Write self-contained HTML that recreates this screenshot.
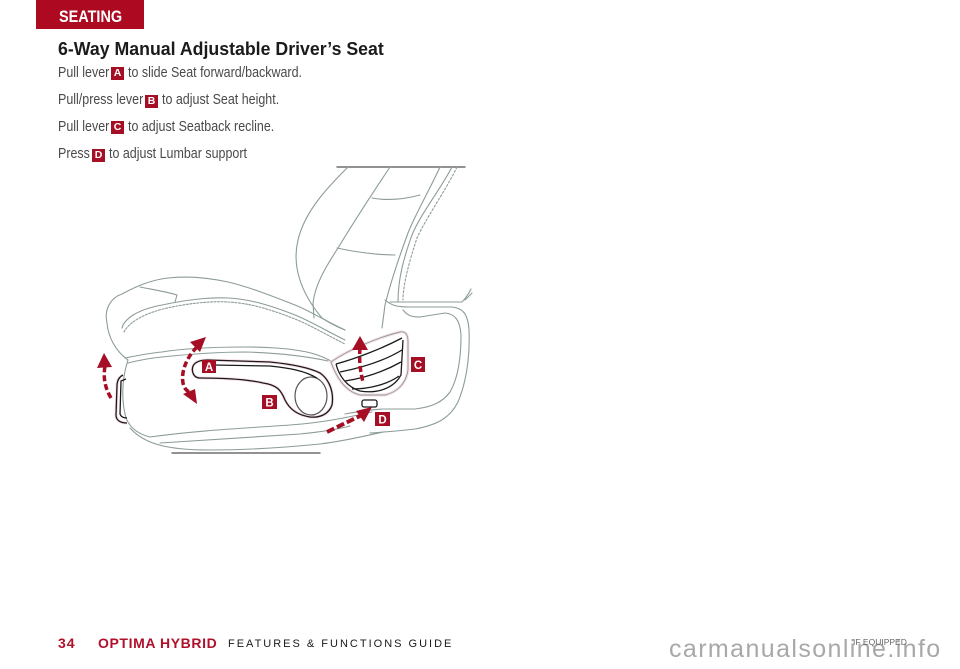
<!DOCTYPE html>
<html><head><meta charset="utf-8">
<style>
html,body{margin:0;padding:0;background:#fff;}
body{width:960px;height:669px;position:relative;overflow:hidden;font-family:"Liberation Sans",Arial,sans-serif;}
.abs{position:absolute;white-space:nowrap;line-height:1;transform-origin:0 0;}
.t{font-size:14.5px;color:#4a4a4a;transform:scaleX(0.86);}
.bd{position:absolute;width:13px;height:13px;background:#a50e24;color:#fff;font-weight:bold;font-size:10.5px;line-height:13px;text-align:center;}
</style></head><body>

<div style="position:absolute;left:36px;top:0;width:108px;height:29px;background:#ad0a22;"></div>
<div class="abs" style="left:59px;top:9px;font-size:16.5px;font-weight:bold;color:#fff;transform:scaleX(0.875);">SEATING</div>

<div class="abs" style="left:58px;top:40px;font-size:18px;font-weight:bold;color:#1b1b1b;transform:scaleX(0.985);">6-Way Manual Adjustable Driver’s Seat</div>

<div class="abs t" style="left:58px;top:66px;">Pull lever</div>
<div class="bd" style="left:111px;top:67px;">A</div>
<div class="abs t" style="left:128px;top:66px;">to slide Seat forward/backward.</div>

<div class="abs t" style="left:58px;top:93px;">Pull/press lever</div>
<div class="bd" style="left:145px;top:95px;">B</div>
<div class="abs t" style="left:162px;top:93px;">to adjust Seat height.</div>

<div class="abs t" style="left:58px;top:120px;">Pull lever</div>
<div class="bd" style="left:111px;top:121px;">C</div>
<div class="abs t" style="left:128px;top:120px;">to adjust Seatback recline.</div>

<div class="abs t" style="left:58px;top:147px;">Press</div>
<div class="bd" style="left:92px;top:149px;">D</div>
<div class="abs t" style="left:109px;top:147px;">to adjust Lumbar support</div>

<svg style="position:absolute;left:0;top:0" width="960" height="669" viewBox="0 0 960 669">
<g fill="none" stroke="#8c9c99" stroke-width="1.1" stroke-linecap="round">
  <line x1="337" y1="167" x2="465" y2="167" stroke="#6f6f6f" stroke-width="1.4"/>
  <line x1="172" y1="453" x2="320" y2="453" stroke="#6f6f6f" stroke-width="1.4"/>
  <path d="M348,167 C330,185 305,210 298,240 C292,265 300,292 322,318 C328,322 335,326 345,330"/>
  <path d="M390,167 C378,185 352,225 338,248 C325,268 315,285 313,303 L314,318"/>
  <path d="M440,167 C432,185 415,215 408,233 C398,260 390,285 385,305 L382,328"/>
  <path d="M372,198 C388,201 405,199 420,195"/>
  <path d="M337,248 C355,252 378,255 395,255"/>
  <path d="M452,167 C440,190 420,215 412,235 C403,260 398,280 398,302"/>
  <path d="M457,167 C446,190 426,218 417,238 C409,262 403,285 403,300" stroke-dasharray="2,2"/>
  <path d="M390,302 L462,302 C466,298 469,293 471,289"/>
  <path d="M465,300 L472,293"/>
  <path d="M385,300 C392,306 398,307 410,307 L452,307 C462,308 468,313 469,330 C470,355 467,380 458,402 C450,418 437,425 415,429 C398,431 385,432 370,433"/>
  <path d="M403,310 C408,316 412,317 420,317 L445,313 C455,314 460,320 461,335 C461,360 457,380 450,392 C443,402 432,407 415,409 L383,409 C370,410 355,412 345,414"/>
  <path d="M107,323 C104,310 110,298 122,294 C135,287 150,280 168,278 C185,276 205,277 228,282 C245,286 262,292 295,305 C310,311 320,318 345,330"/>
  <path d="M140,287 C155,290 168,292 177,295 L175,302"/>
  <path d="M122,328 C124,320 135,310 162,305 C185,300 210,297 228,298 C245,299 262,302 295,315 C310,321 325,330 345,340"/>
  <path d="M124,332 C128,324 140,315 163,309 C188,303 212,301 228,302 C245,303 262,306 295,319 C310,325 325,334 345,344" stroke-dasharray="2,1.5"/>
  <path d="M107,323 C108,335 114,350 128,360"/>
  <path d="M125,358 C140,355 150,353 162,352 C180,349 210,347 245,347 C270,347 290,349 295,350 C310,352 320,355 333,362"/>
  <path d="M128,363 C140,360 150,358 162,357 C200,353 225,352 245,352 C280,353 305,356 328,361"/>
  <path d="M128,360 C122,378 121,400 126,418 C130,428 138,434 150,437"/>
  <path d="M130,428 C145,445 170,450 210,450 C250,450 290,447 320,444 C345,441 365,436 383,432"/>
  <path d="M150,437 C200,430 250,428 290,425 C320,423 345,418 372,412"/>
  <path d="M160,443 C210,440 260,437 300,434 C320,432 335,430 350,426"/>
  <ellipse cx="311" cy="396" rx="16" ry="19" stroke="#555" stroke-width="1.2"/>
</g>

<g fill="none" stroke="#f7dde3" stroke-width="3" stroke-linejoin="round">
  <path d="M193,366 C195,362 200,360 208,360 L270,362 C290,364 308,367 320,373 C330,380 334,393 332,405 C329,414 320,418 310,417 C298,415 290,410 285,400 C281,390 277,385 263,383 C250,380 230,378 200,378 C194,378 191,372 193,366 Z" transform="translate(0,0)"/>
  <path d="M123,375 C119,377 117,381 117,386 L116,415 C116,420 120,423 127,423"/>
  <path d="M331,362 C345,352 375,338 400,332 C406,331 408,335 408,342 L408,370 C406,383 398,392 385,395 L360,395 C348,392 338,382 331,362 Z"/>
</g>
<g fill="none" stroke="#8c9c99" stroke-width="0.9">
  <path d="M331,362 C345,352 375,338 400,332 C406,331 408,335 408,342 L408,370 C406,383 398,392 385,395 L360,395 C348,392 338,382 331,362 Z"/>
</g>

<g fill="none" stroke="#1a1a1a" stroke-width="1.3" stroke-linejoin="round">
  <path d="M193,366 C195,362 200,360 208,360 L270,362 C290,364 308,367 320,373 C330,380 334,393 332,405 C329,414 320,418 310,417 C298,415 290,410 285,400 C281,390 277,385 263,383 C250,380 230,378 200,378 C194,378 191,372 193,366 Z"/>
  <path d="M213,365 L270,366 C290,368 305,371 317,378"/>
  <path d="M123,375 C119,377 117,381 117,386 L116,415 C116,420 120,423 127,423"/>
  <path d="M126,379 L121,381 L120,414 C121,417 124,418 127,418"/>
  <path d="M336,364 C358,358 383,348 402,338"/>
  <path d="M336,364 C339,376 347,387 360,391 C378,394 394,388 401,375 L403,340"/>
  <path d="M340,372 C360,368 384,361 402,350"/>
  <path d="M345,381 C365,378 385,371 401,362"/>
  <path d="M352,389 C370,389 388,384 399,376"/>
  <rect x="362" y="400" width="15" height="7" rx="2" fill="#fff"/>
</g>

<g fill="none" stroke="#a50e24" stroke-width="3.5">
  <path d="M111,398 C105,388 103,378 105,366" stroke-dasharray="6,3"/>
  <path d="M197,347 C186,358 181,372 183,383 C184,388 186,390 189,392" stroke-dasharray="6,3"/>
  <path d="M360,348 C359,360 360,370 363,382" stroke-dasharray="6,3"/>
  <path d="M327,432 L364,414" stroke-width="4" stroke-dasharray="8,3"/>
</g>
<g fill="#a50e24">
  <polygon points="104,353 97,368 112,367"/>
  <polygon points="206,337 190,342 200,352"/>
  <polygon points="197,404 183,394 195,389"/>
  <polygon points="360,336 352,350 368,350"/>
  <polygon points="372,407 356,411 364,422"/>
</g>

<g font-family="Liberation Sans, Arial, sans-serif" font-weight="bold" font-size="11.5" fill="#fff" text-anchor="middle">
  <rect x="202" y="360" width="14" height="13" fill="#a50e24"/><text x="209" y="371">A</text>
  <rect x="262" y="395" width="15" height="14" fill="#a50e24"/><text x="269.5" y="406.5">B</text>
  <rect x="411" y="357" width="14" height="15" fill="#a50e24"/><text x="418" y="369">C</text>
  <rect x="375" y="412" width="15" height="14" fill="#a50e24"/><text x="382.5" y="423.5">D</text>
</g>
</svg>

<div class="abs" style="left:58px;top:636px;font-size:14px;font-weight:bold;color:#b0102a;letter-spacing:1px;">34</div>
<div class="abs" style="left:98px;top:636px;font-size:14px;font-weight:bold;color:#b0102a;letter-spacing:0.6px;">OPTIMA HYBRID</div>
<div class="abs" style="left:228px;top:639px;font-size:11px;color:#1a1a1a;letter-spacing:2px;">FEATURES &amp; FUNCTIONS GUIDE</div>
<div class="abs" style="left:669px;top:637px;font-size:25px;color:#a8a8a8;letter-spacing:1.4px;">carmanualsonline.info</div>
<div class="abs" style="left:853px;top:638px;font-size:8.5px;color:#666;">IF EQUIPPED</div>
</body></html>
